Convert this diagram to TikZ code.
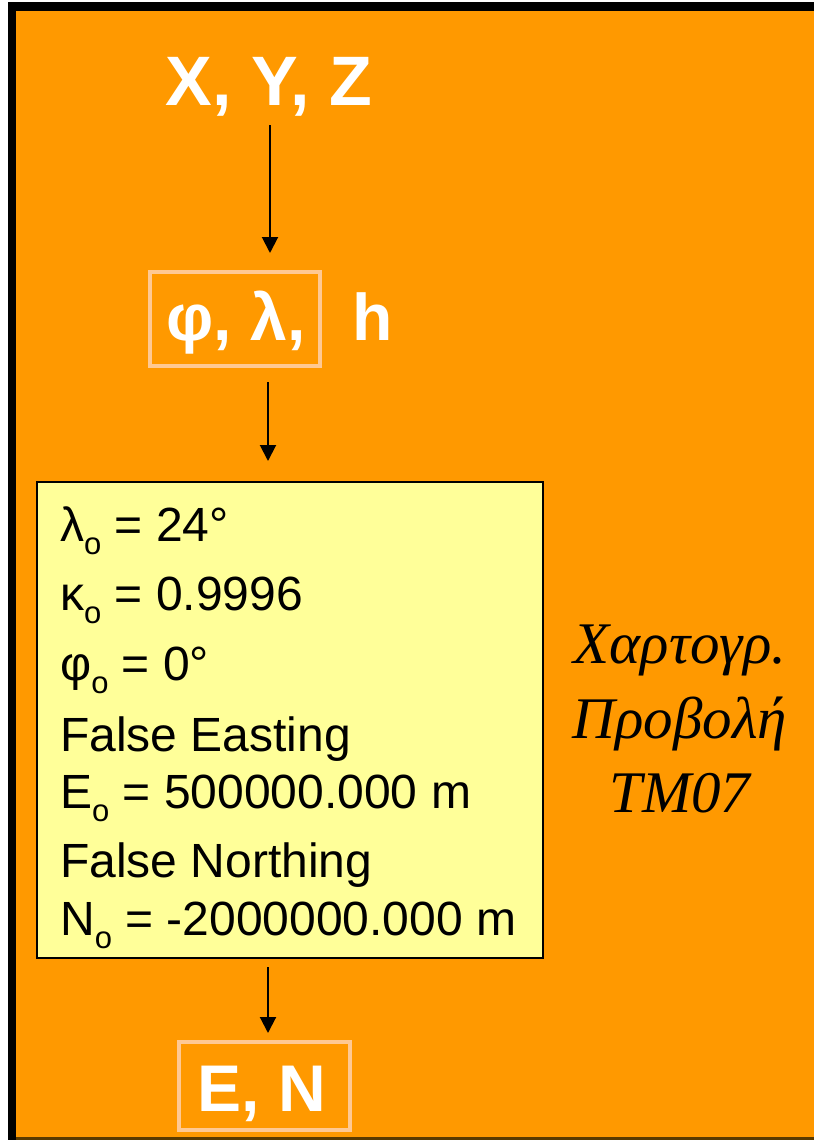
\documentclass[tikz,border=0pt]{standalone}
\usepackage{fontspec}
\setmainfont{Liberation Sans}
\newfontfamily\grserif{Liberation Serif}
\usetikzlibrary{arrows.meta,calc}
\definecolor{bgorange}{HTML}{FF9900}
\definecolor{boxyellow}{HTML}{FFFF99}
\definecolor{lightframe}{HTML}{FFC993}
\definecolor{bottomline}{HTML}{5A3A00}
\newcommand{\bigbold}{\fontsize{66}{70}\selectfont\bfseries}
\newcommand{\xyzbold}{\fontsize{70}{74}\selectfont\bfseries}
\newcommand{\boxtxt}{\fontsize{48}{54}\selectfont}
\newcommand{\subo}{\raisebox{-13pt}{\fontsize{31}{31}\selectfont o}}
\tikzset{
  whitelabel/.style={text=white, font=\bigbold, inner sep=0pt},
  framebox/.style={draw=lightframe, line width=4pt, inner sep=0pt},
  paramline/.style={anchor=base west, inner sep=0pt, font=\boxtxt, text=black},
  greekline/.style={anchor=base, inner sep=0pt, font=\grserif\itshape\fontsize{59}{64}\selectfont, text=black},
  arr/.style={draw=black, line width=2pt, -{Triangle[width=16pt,length=16pt]}}
}
\begin{document}
\begin{tikzpicture}[x=1pt,y=-1pt]
\useasboundingbox (0,0) rectangle (814,1140);
% background and frame
\fill[white] (0,0) rectangle (814,1140);
\fill[black] (8,2) rectangle (814,1140);
\fill[bottomline] (16,11) rectangle (814,1140);
\fill[bgorange] (16,11) rectangle (814,1137);

% nodes
\node[whitelabel, font=\xyzbold, anchor=base] (xyz) at (269,105) {X, Y, Z};
\node[framebox, minimum width=170pt, minimum height=94pt] (phl) at (235,319) {};
\node[whitelabel, anchor=base] (phltxt) at (236,340) {φ, λ,};
\node[whitelabel, anchor=base west] (h) at (352,340) {h};

\node[draw=black, fill=boxyellow, line width=2pt, minimum width=506pt, minimum height=476pt, inner sep=0pt] (params) at (290,720) {};
\node[paramline] (l1) at (60,541) {λ\subo{} = 24°};
\node[paramline] (l2) at (60,610) {κ\subo{} = 0.9996};
\node[paramline] (l3) at (60,680) {φ\subo{} = 0°};
\node[paramline] (l4) at (60,751) {False Easting};
\node[paramline] (l5) at (60,808) {E\subo{} = 500000.000 m};
\node[paramline] (l6) at (60,877) {False Northing};
\node[paramline] (l7) at (60,935) {N\subo{} = -2000000.000 m};

\node[greekline] (g1) at (680,663) {Χαρτογρ.};
\node[greekline] (g2) at (680,738) {Προβολή};
\node[greekline] (g3) at (680,812) {TM07};

\node[framebox, minimum width=171pt, minimum height=88pt] (en) at (264.5,1086) {};
\node[whitelabel, anchor=base] (entxt) at (262,1111) {E, N};

% connectors
\draw[arr, shorten <=20pt, shorten >=17pt] ([xshift=1pt]xyz.base) -- ([xshift=1pt]xyz.base |- phl.north);
\draw[arr, shorten <=14pt, shorten >=20pt] ([xshift=-1pt]xyz.base |- phl.south) -- ([xshift=-1pt]xyz.base |- params.north);
\draw[arr, shorten <=8pt, shorten >=7pt] ([xshift=-1pt]xyz.base |- params.south) -- ([xshift=-1pt]xyz.base |- en.north);
\end{tikzpicture}
\end{document}
